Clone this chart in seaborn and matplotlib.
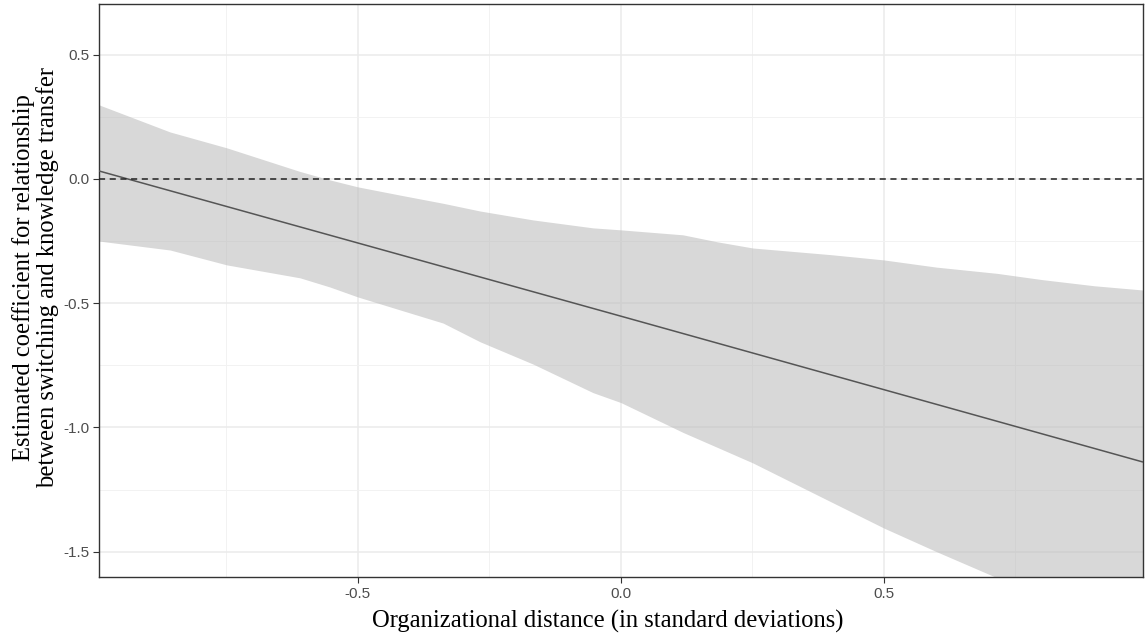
import numpy as np
import pandas as pd
import seaborn as sns
import matplotlib.pyplot as plt
from matplotlib.ticker import MultipleLocator

# valores
dist = [-0.992, -0.857, -0.749, -0.61, -0.553, -0.5, -0.42, -0.338, -0.268, -0.167,
        -0.053, 0.0, 0.118, 0.183, 0.251, 0.40, 0.50, 0.60, 0.715, 0.80, 0.90, 0.992]
upper = [0.298, 0.189, 0.125, 0.03, -0.004, -0.032, -0.065, -0.098, -0.129, -0.165,
         -0.197, -0.205, -0.225, -0.253, -0.278, -0.305, -0.326, -0.355, -0.38, -0.405,
         -0.43, -0.447]
lower = [-0.25, -0.286, -0.346, -0.398, -0.435, -0.475, -0.527, -0.58, -0.655, -0.745,
         -0.86, -0.90, -1.02, -1.08, -1.143, -1.30, -1.405, -1.50, -1.605, -1.70,
         -1.82, -1.93]

line_x = [-0.992, -0.02, -0.02, 0.992]
line_y = [0.032, -0.537, -0.544, -1.139]

df_band = pd.DataFrame({'dist': dist, 'upper': upper, 'lower': lower})
df_line = pd.DataFrame({'dist': line_x, 'coef': line_y})

sns.set_theme(style='white')
plt.rcParams['font.family'] = ['Liberation Sans', 'DejaVu Sans']

fig = plt.figure(figsize=(11.45, 6.34), dpi=100)
ax = fig.add_axes([0.0865, 0.0899, 0.9115, 0.9038])

# grade (maior e menor) estilo theme_bw
ax.xaxis.set_major_locator(MultipleLocator(0.5))
ax.xaxis.set_minor_locator(MultipleLocator(0.25))
ax.yaxis.set_major_locator(MultipleLocator(0.5))
ax.yaxis.set_minor_locator(MultipleLocator(0.25))
ax.grid(True, which='major', color='#EBEBEB', lw=1.1)
ax.grid(True, which='minor', color='#F2F2F2', lw=0.7)
ax.set_axisbelow(True)

ax.fill_between(df_band['dist'], df_band['lower'], df_band['upper'],
                color='#BEBEBE', alpha=0.6, lw=0, zorder=2)
sns.lineplot(data=df_line, x='dist', y='coef', color='#555555', lw=1.1,
             sort=False, ax=ax, zorder=3)
ax.axhline(0, color='#222222', ls=(0, (4, 3)), lw=1.1, zorder=4)

ax.set_xlim(-0.992, 0.992)
ax.set_ylim(-1.602, 0.704)

ax.set_xticks([-0.5, 0.0, 0.5])
ax.set_xticklabels(['-0.5', '0.0', '0.5'])
ax.set_yticks([-1.5, -1.0, -0.5, 0.0, 0.5])
ax.set_yticklabels(['-1.5', '-1.0', '-0.5', '0.0', '0.5'])
ax.tick_params(which='major', length=4, width=0.8, color='#333333',
               labelcolor='#4D4D4D', labelsize=11, bottom=True, left=True, pad=3)
ax.tick_params(which='minor', length=0)

for s in ax.spines.values():
    s.set_color('#333333')
    s.set_linewidth(1.0)

serif = ['Liberation Serif', 'DejaVu Serif']
ax.set_xlabel('Organizational distance (in standard deviations)',
              fontsize=17.7, family=serif, color='black')
ax.set_ylabel('Estimated coefficient for relationship\nbetween switching and knowledge transfer',
              fontsize=17.7, family=serif, color='black', linespacing=1.1)
ax.xaxis.set_label_coords(0.487, -0.057)
ax.yaxis.set_label_coords(-0.038, 0.522)

fig.savefig('out.png', dpi=100)
